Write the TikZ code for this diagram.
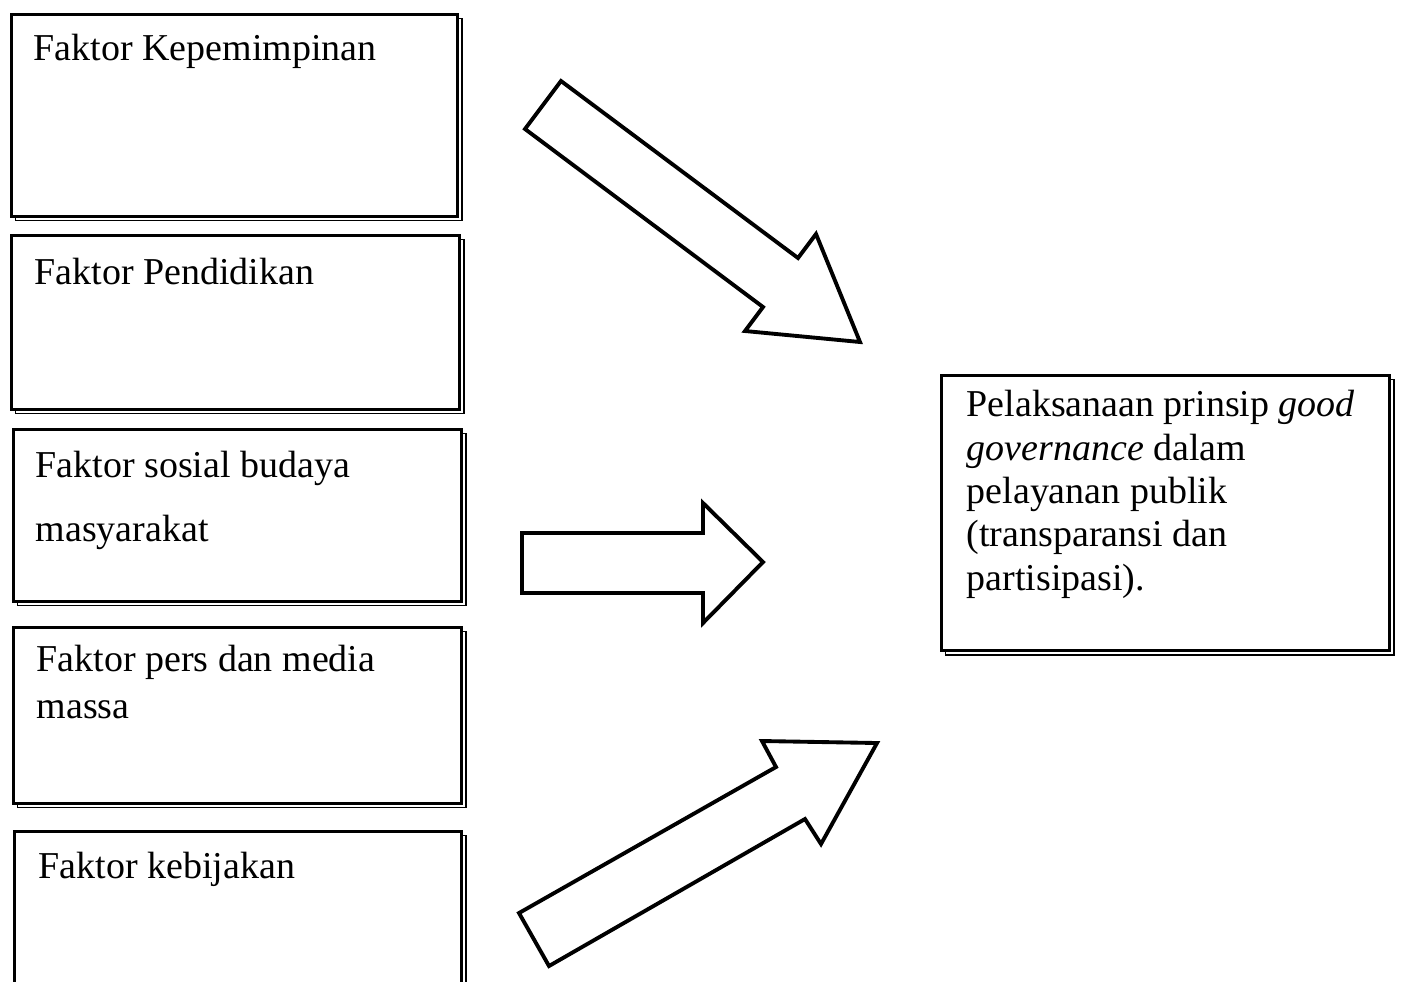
\documentclass[tikz,border=0pt]{standalone}
\usepackage{fontspec}
\setmainfont{Liberation Serif}
\usetikzlibrary{calc,positioning,shadows}
\tikzset{
        faktor/.style = {draw, rectangle, fill=white, line width=0.9pt, anchor=north west,
            copy shadow={shadow xshift=1.1pt, shadow yshift=-1.1pt, fill=white, draw=black, line width=0.5pt}},
        isi/.style = {anchor=base west, inner sep=0pt, align=left,
            font=\fontsize{10.8}{13.1}\selectfont},
        panah/.style = {draw, line width=1.1pt, line join=miter, fill=white},
    }

\begin{document}
\begin{tikzpicture}[x=0.01cm, y=-0.01cm]
    \useasboundingbox (0,0) rectangle (1401,981);
    \clip (0,0) rectangle (1401,981);

    % kotak faktor
    \node[faktor, minimum width=4.46cm, minimum height=2.02cm] (k1) at (10,13) {};
    \node[faktor, minimum width=4.48cm, minimum height=1.74cm] (k2) at (10,234) {};
    \node[faktor, minimum width=4.48cm, minimum height=1.72cm] (k3) at (12,428) {};
    \node[faktor, minimum width=4.48cm, minimum height=1.76cm] (k4) at (12,626) {};
    \node[faktor, minimum width=4.47cm, minimum height=1.90cm] (k5) at (13,830) {};

    % baseline = baris terakhir
    \node[isi] (t1) at ($(k1.north west)+(23,47)$) {Faktor Kepemimpinan};
    \node[isi] (t2) at ($(k2.north west)+(24,50)$) {Faktor Pendidikan};
    \node[isi] (t3) at ($(k3.north west)+(23,113)$) {Faktor sosial budaya\\[5.1pt] masyarakat};
    \node[isi] (t4) at ($(k4.north west)+(24,92)$) {Faktor pers dan media\\ massa};
    \node[isi] (t5) at ($(k5.north west)+(25,48)$) {Faktor kebijakan};

    % kotak hasil
    \node[faktor, minimum width=4.48cm, minimum height=2.75cm] (hasil) at (940,374) {};
    \node[isi, font=\fontsize{10.8}{12.3}\selectfont] (thasil) at ($(hasil.north west)+(26,216)$)
        {Pelaksanaan prinsip \textit{good}\\ \textit{governance} dalam\\ pelayanan publik\\
         (transparansi dan\\ partisipasi).};

    % panah blok
    \draw[panah] (561,81) -- (798,258) -- (816,234) -- (860,342) -- (745,331)
        -- (763,307) -- (525,129) -- cycle;
    \draw[panah] (522,533) -- (703,533) -- (703,503) -- (763,562) -- (703,623)
        -- (703,593) -- (522,593) -- cycle;
    \draw[panah] (519,913) -- (776,767) -- (762,741) -- (877,743) -- (821,844)
        -- (805,819) -- (549,966) -- cycle;
\end{tikzpicture}
\end{document}
